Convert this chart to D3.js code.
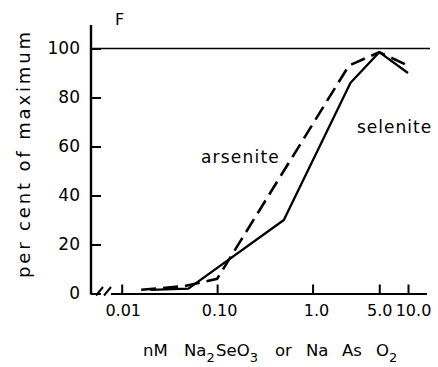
<!DOCTYPE html>
<html><head><meta charset="utf-8">
<script src="https://cdn.jsdelivr.net/npm/d3@7"></script>
<style>
html,body{margin:0;padding:0;background:#fff;}
svg{display:block;font-family:"DejaVu Sans",sans-serif;}
</style></head>
<body>
<svg id="c" width="438" height="367"></svg>
<script>
// ---- data ----
const xTickValues = [0.01, 0.1, 1, 5, 10];
const xTickLabels = ["0.01", "0.10", "1.0", "5.0", "10.0"];
const yTickValues = [0, 20, 40, 60, 80, 100];
const yTickLabels = ["0", "20", "40", "60", "80", "100"];
// selenite (solid line)
const seleniteConc = [0.02, 0.05, 0.5, 2.5, 5, 10];
const seleniteResp = [1.5, 2, 30, 86, 98.5, 90];
// arsenite (dashed line)
const arseniteConc = [0.016, 0.045, 0.1, 2.4, 5, 10];
const arseniteResp = [1.5, 3, 6, 93, 98.5, 93];
const panelLabel = "F";
const yTitle = "per cent of maximum";

// ---- layout ----
const svg = d3.select("#c");
const x = d3.scaleLog().domain([0.01, 10]).range([121.7, 408]);
const y = d3.scaleLinear().domain([0, 100]).range([293.5, 48.5]);
const axisX0 = 91, axisRight = 427;

// y axis
const gy = svg.append("g").attr("transform", `translate(${axisX0},0)`)
  .call(d3.axisLeft(y).tickValues(yTickValues)
    .tickFormat((d, i) => yTickLabels[i]).tickSize(-10).tickPadding(11));
gy.select(".domain").remove();
gy.selectAll(".tick line").attr("stroke", "#000").attr("stroke-width", 2);
gy.selectAll(".tick text").attr("font-size", 17).attr("font-family", "DejaVu Sans").attr("fill", "#000");
svg.append("line").attr("x1", axisX0).attr("x2", axisX0).attr("y1", 25).attr("y2", 294.5)
  .attr("stroke", "#000").attr("stroke-width", 2.4);

// reference line at 100 %
svg.append("line").attr("x1", axisX0).attr("x2", 430).attr("y1", y(100)).attr("y2", y(100))
  .attr("stroke", "#000").attr("stroke-width", 1.4);

// x axis
const labelShift = [1, 2, 3.5, 0, 5];
const gx = svg.append("g").attr("transform", `translate(0,${y(0)})`)
  .call(d3.axisBottom(x).tickValues(xTickValues)
    .tickFormat((d, i) => xTickLabels[i]).tickSize(-9).tickPadding(11));
gx.select(".domain").remove();
gx.selectAll(".tick line").attr("stroke", "#000").attr("stroke-width", 2);
gx.selectAll(".tick text").attr("font-size", 16).attr("font-family", "DejaVu Sans").attr("fill", "#000")
  .attr("dx", (d, i) => labelShift[i]);
// baseline with axis break
const by = y(0) + 0.5;
svg.append("line").attr("x1", axisX0).attr("x2", 97).attr("y1", by).attr("y2", by).attr("stroke", "#000").attr("stroke-width", 2);
svg.append("line").attr("x1", 111).attr("x2", axisRight).attr("y1", by).attr("y2", by).attr("stroke", "#000").attr("stroke-width", 2);
[[96, 103], [104, 111]].forEach(([a, b]) => {
  svg.append("line").attr("x1", a).attr("y1", by + 1.5).attr("x2", b).attr("y2", by - 7)
    .attr("stroke", "#000").attr("stroke-width", 2);
});

// series
const line = d3.line().x(d => x(d[0])).y(d => y(d[1]));
svg.append("path").datum(d3.zip(seleniteConc, seleniteResp)).attr("d", line)
  .attr("fill", "none").attr("stroke", "#000").attr("stroke-width", 2.3).attr("stroke-linejoin", "round");
svg.append("path").datum(d3.zip(arseniteConc, arseniteResp)).attr("d", line)
  .attr("fill", "none").attr("stroke", "#000").attr("stroke-width", 2.6)
  .attr("stroke-dasharray", "15,7");

// labels
svg.append("text").attr("x", 201).attr("y", 163).attr("font-size", 17).attr("letter-spacing", 1.2).text("arsenite");
svg.append("text").attr("x", 357).attr("y", 133).attr("font-size", 17).attr("letter-spacing", 1).text("selenite");
svg.append("text").attr("x", 115).attr("y", 25).attr("font-size", 16).text(panelLabel);

// y title
svg.append("text").attr("transform", "translate(30,155) rotate(-90)")
  .attr("text-anchor", "middle").attr("font-size", 18)
  .attr("textLength", 246).attr("lengthAdjust", "spacing").text(yTitle);

// x title with subscripts
const xt = svg.append("text").attr("y", 356).attr("font-size", 16.5);
const parts = [
  {t: "nM", x: 143}, {t: "Na", x: 184}, {t: "2", sub: true}, {t: "SeO", x: 216}, {t: "3", sub: true},
  {t: "or", x: 275}, {t: "Na", x: 306}, {t: "As", x: 342}, {t: "O", x: 376}, {t: "2", sub: true}
];
parts.forEach(p => {
  const s = xt.append("tspan").text(p.t);
  if (p.x !== undefined) s.attr("x", p.x).attr("y", 356);
  if (p.sub) s.attr("y", 362).attr("font-size", 13);
});
</script>
</body></html>
